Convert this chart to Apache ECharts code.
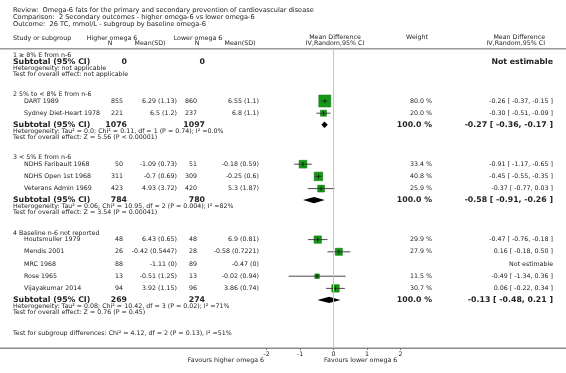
<!DOCTYPE html>
<html>
<head>
<meta charset="utf-8">
<script src="https://cdn.jsdelivr.net/npm/echarts@6/dist/echarts.min.js"></script>
<style>
  html, body { margin: 0; padding: 0; background: #fff; }
  #forest { width: 566px; height: 373px; }
</style>
</head>
<body>
<div id="forest"></div>
<script>
// Forest plot - omega 6 subgroups

// Datos
const groupLabels = ['1 ≥ 8% E from n-6', '2 5% to < 8% E from n-6', '3 < 5% E from n-6', '4 Baseline n-6 not reported'];
const studies = ['DART 1989', 'Sydney Diet-Heart 1978', 'NDHS Faribault 1968', 'NDHS Open 1st 1968', 'Veterans Admin 1969',
                 'Houtsmuller 1979', 'Mendis 2001', 'MRC 1968', 'Rose 1965', 'Vijayakumar 2014'];
const studyGroup = [1, 1, 2, 2, 2, 3, 3, 3, 3, 3];
const nHigh = [855, 221, 50, 311, 423, 48, 26, 88, 13, 94];
const meanHigh = [6.29, 6.5, -1.09, -0.7, 4.93, 6.43, -0.42, -1.11, -0.51, 3.92];
const sdHigh = [1.13, 1.2, 0.73, 0.69, 3.72, 0.65, 0.5447, 0, 1.25, 1.15];
const nLow = [860, 237, 51, 309, 420, 48, 28, 89, 13, 96];
const meanLow = [6.55, 6.8, -0.18, -0.25, 5.3, 6.9, -0.58, -0.47, -0.02, 3.86];
const sdLow = [1.1, 1.1, 0.59, 0.6, 1.87, 0.81, 0.7221, 0, 0.94, 0.74];
const md = [-0.26, -0.30, -0.91, -0.45, -0.37, -0.47, 0.16, null, -0.49, 0.06];
const mdLow = [-0.37, -0.51, -1.17, -0.55, -0.77, -0.76, -0.18, null, -1.34, -0.22];
const mdHigh = [-0.15, -0.09, -0.65, -0.35, 0.03, -0.18, 0.50, null, 0.36, 0.34];
const weights = [80.0, 20.0, 33.4, 40.8, 25.9, 29.9, 27.9, null, 11.5, 30.7];

const subN1 = [0, 1076, 784, 269];
const subN2 = [0, 1097, 780, 274];
const subMd = [null, -0.27, -0.58, -0.13];
const subLow = [null, -0.36, -0.91, -0.48];
const subHigh = [null, -0.17, -0.26, 0.21];
const hetTexts = [
  'Heterogeneity: not applicable',
  'Heterogeneity: Tau² = 0.0; Chi² = 0.11, df = 1 (P = 0.74); I² =0.0%',
  'Heterogeneity: Tau² = 0.06; Chi² = 10.95, df = 2 (P = 0.004); I² =82%',
  'Heterogeneity: Tau² = 0.08; Chi² = 10.42, df = 3 (P = 0.02); I² =71%'
];
const effectTexts = [
  'Test for overall effect: not applicable',
  'Test for overall effect: Z = 5.56 (P < 0.00001)',
  'Test for overall effect: Z = 3.54 (P = 0.00041)',
  'Test for overall effect: Z = 0.76 (P = 0.45)'
];
const subgroupDiffText = 'Test for subgroup differences: Chi² = 4.12, df = 2 (P = 0.13), I² =51%';
const titleLines = [
  'Review:  Omega-6 fats for the primary and secondary prevention of cardiovascular disease',
  'Comparison:  2 Secondary outcomes - higher omega-6 vs lower omega-6',
  'Outcome:  26 TC, mmol/L - subgroup by baseline omega-6'
];
const xTicks = [-2, -1, 0, 1, 2];
const favoursLeft = 'Favours higher omega 6';
const favoursRight = 'Favours lower omega 6';

// Estilos / layout
const FONT = '"DejaVu Sans", Verdana, sans-serif';
const SMALL = '6.3px ' + FONT;
const TITLE = '6.6px ' + FONT;
const BOLD = 'bold 7.8px ' + FONT;
const INK = '#222';
const LINE_TOP = 49;
const AXIS_Y = 348;
const X_LEFT = 266.5, X_RIGHT = 400.5;
const SQUARE_SCALE = 1.33;
const col = { label: 13, study: 24, n1: 123, m1: 177, n2: 197, m2: 259, sub1: 127, sub2: 205, zero: 334, weight: 432, ci: 553 };
// espacios entre filas (px)
const gap = { firstHeader: 6.5, header: 20.5, firstStudy: 6.5, study: 12.2, subAfterStudy: 11.5, subAfterHeader: 6, het: 6.5, effect: 6, diff: 20.5 };

function fmt2(v) { return v.toFixed(2); }
function ciText(m, l, h) { return fmt2(m) + ' [ ' + fmt2(l) + ', ' + fmt2(h) + ' ]'; }

// Posiciones de filas
const studyY = [], groupY = [], subY = [], hetY = [], effY = [];
let y = LINE_TOP;
for (let g = 0; g < groupLabels.length; g++) {
  y += (g === 0 ? gap.firstHeader : gap.header);
  groupY.push(y);
  let first = true;
  studies.forEach((s, i) => {
    if (studyGroup[i] !== g) return;
    y += first ? gap.firstStudy : gap.study;
    first = false;
    studyY[i] = y;
  });
  y += first ? gap.subAfterHeader : gap.subAfterStudy;
  subY.push(y);
  y += gap.het; hetY.push(y);
  y += gap.effect; effY.push(y);
}
const diffY = y + gap.diff;

// Textos
const graphics = [];
function txt(text, x, yy, align, font, fill) {
  graphics.push({
    type: 'text', x: x, y: yy, silent: true,
    style: { text: text, font: font || SMALL, fill: fill || INK, align: align || 'left', verticalAlign: 'middle' }
  });
}
titleLines.forEach((t, i) => txt(t, col.label, 10 + i * 7, 'left', TITLE));
txt('Study or subgroup', col.label, 38);
txt('Higher omega 6', 112, 38, 'center');
txt('N', 110, 43.5, 'center');
txt('Mean(SD)', 150, 43.5, 'center');
txt('Lower omega 6', 198, 38, 'center');
txt('N', 197, 43.5, 'center');
txt('Mean(SD)', 240, 43.5, 'center');
txt('Mean Difference', col.zero + 1, 37.5, 'center');
txt('IV,Random,95% CI', col.zero + 1, 43.5, 'center');
txt('Weight', 417, 37.5, 'center');
txt('Mean Difference', 545, 37.5, 'right');
txt('IV,Random,95% CI', 545, 43.5, 'right');

groupLabels.forEach((g, i) => {
  txt(g, col.label, groupY[i]);
  txt('Subtotal (95% CI)', col.label, subY[i], 'left', BOLD);
  txt(String(subN1[i]), col.sub1, subY[i], 'right', BOLD);
  txt(String(subN2[i]), col.sub2, subY[i], 'right', BOLD);
  if (subMd[i] === null) {
    txt('Not estimable', col.ci, subY[i], 'right', BOLD);
  } else {
    txt('100.0 %', col.weight, subY[i], 'right', BOLD);
    txt(ciText(subMd[i], subLow[i], subHigh[i]), col.ci, subY[i], 'right', BOLD);
  }
  txt(hetTexts[i], col.label, hetY[i]);
  txt(effectTexts[i], col.label, effY[i]);
});
studies.forEach((s, i) => {
  const yy = studyY[i];
  txt(s, col.study, yy);
  txt(String(nHigh[i]), col.n1, yy, 'right');
  txt(meanHigh[i] + ' (' + sdHigh[i] + ')', col.m1, yy, 'right');
  txt(String(nLow[i]), col.n2, yy, 'right');
  txt(meanLow[i] + ' (' + sdLow[i] + ')', col.m2, yy, 'right');
  if (md[i] === null) {
    txt('Not estimable', col.ci, yy, 'right');
  } else {
    txt(weights[i].toFixed(1) + ' %', col.weight, yy, 'right');
    txt(ciText(md[i], mdLow[i], mdHigh[i]), col.ci, yy, 'right');
  }
});
txt(subgroupDiffText, col.label, diffY);
txt(favoursLeft, 264, 360.5, 'right');
txt(favoursRight, 324, 360.5, 'left');

// Lineas horizontales
graphics.push({ type: 'rect', silent: true, shape: { x: 0, y: LINE_TOP - 1, width: 566, height: 1.5 }, style: { fill: '#9a9a9a' } });
graphics.push({ type: 'rect', silent: true, shape: { x: 0, y: AXIS_Y - 0.5, width: 566, height: 1.5 }, style: { fill: '#8a8a8a' } });

// Datos para series
const studyData = [];
studies.forEach((s, i) => {
  if (md[i] !== null) studyData.push([md[i], mdLow[i], mdHigh[i], weights[i], studyY[i]]);
});
const diamondData = [];
subMd.forEach((m, i) => {
  if (m !== null) diamondData.push([m, subLow[i], subHigh[i], subY[i]]);
});

const chart = echarts.init(document.getElementById('forest'), null, { renderer: 'canvas' });
chart.setOption({
  animation: false,
  backgroundColor: '#ffffff',
  grid: { left: X_LEFT, width: X_RIGHT - X_LEFT, top: LINE_TOP, height: AXIS_Y - LINE_TOP, containLabel: false },
  xAxis: {
    type: 'value', min: -2, max: 2, interval: 1,
    axisLine: { show: false },
    axisTick: { show: true, length: 2, lineStyle: { color: '#777', width: 1 } },
    axisLabel: { fontSize: 6.3, fontFamily: 'DejaVu Sans', color: INK, margin: 3, showMinLabel: true, showMaxLabel: true },
    splitLine: { show: false }
  },
  yAxis: { type: 'value', min: LINE_TOP, max: AXIS_Y, inverse: true, show: false },
  graphic: graphics,
  series: [
    {
      type: 'custom',
      name: 'studies',
      data: studyData,
      clip: false,
      markLine: {
        silent: true, symbol: 'none', label: { show: false },
        lineStyle: { color: '#c4c4c4', width: 1, type: 'solid' },
        data: [{ xAxis: 0 }]
      },
      renderItem: function (params, api) {
        const yy = api.value(4);
        const pm = api.coord([api.value(0), yy]);
        const pl = api.coord([api.value(1), yy]);
        const ph = api.coord([api.value(2), yy]);
        const size = SQUARE_SCALE * Math.sqrt(api.value(3));
        return {
          type: 'group',
          children: [
            { type: 'rect', shape: { x: pm[0] - size / 2, y: pm[1] - size / 2, width: size, height: size },
              style: { fill: '#139a13', stroke: '#0d720d', lineWidth: 0.6 } },
            { type: 'line', shape: { x1: pl[0], y1: pm[1], x2: ph[0], y2: pm[1] },
              style: { stroke: '#333', lineWidth: 0.9 } },
            { type: 'line', shape: { x1: pm[0], y1: pm[1] - 2, x2: pm[0], y2: pm[1] + 2 },
              style: { stroke: '#111', lineWidth: 0.9 } }
          ]
        };
      }
    },
    {
      type: 'custom',
      name: 'subtotals',
      data: diamondData,
      clip: false,
      renderItem: function (params, api) {
        const yy = api.value(3);
        const pm = api.coord([api.value(0), yy]);
        const pl = api.coord([api.value(1), yy]);
        const ph = api.coord([api.value(2), yy]);
        const h = 3.2;
        return {
          type: 'polygon',
          shape: { points: [[pl[0], pm[1]], [pm[0], pm[1] - h], [ph[0], pm[1]], [pm[0], pm[1] + h]] },
          style: { fill: '#000' }
        };
      }
    }
  ]
});
</script>
</body>
</html>
